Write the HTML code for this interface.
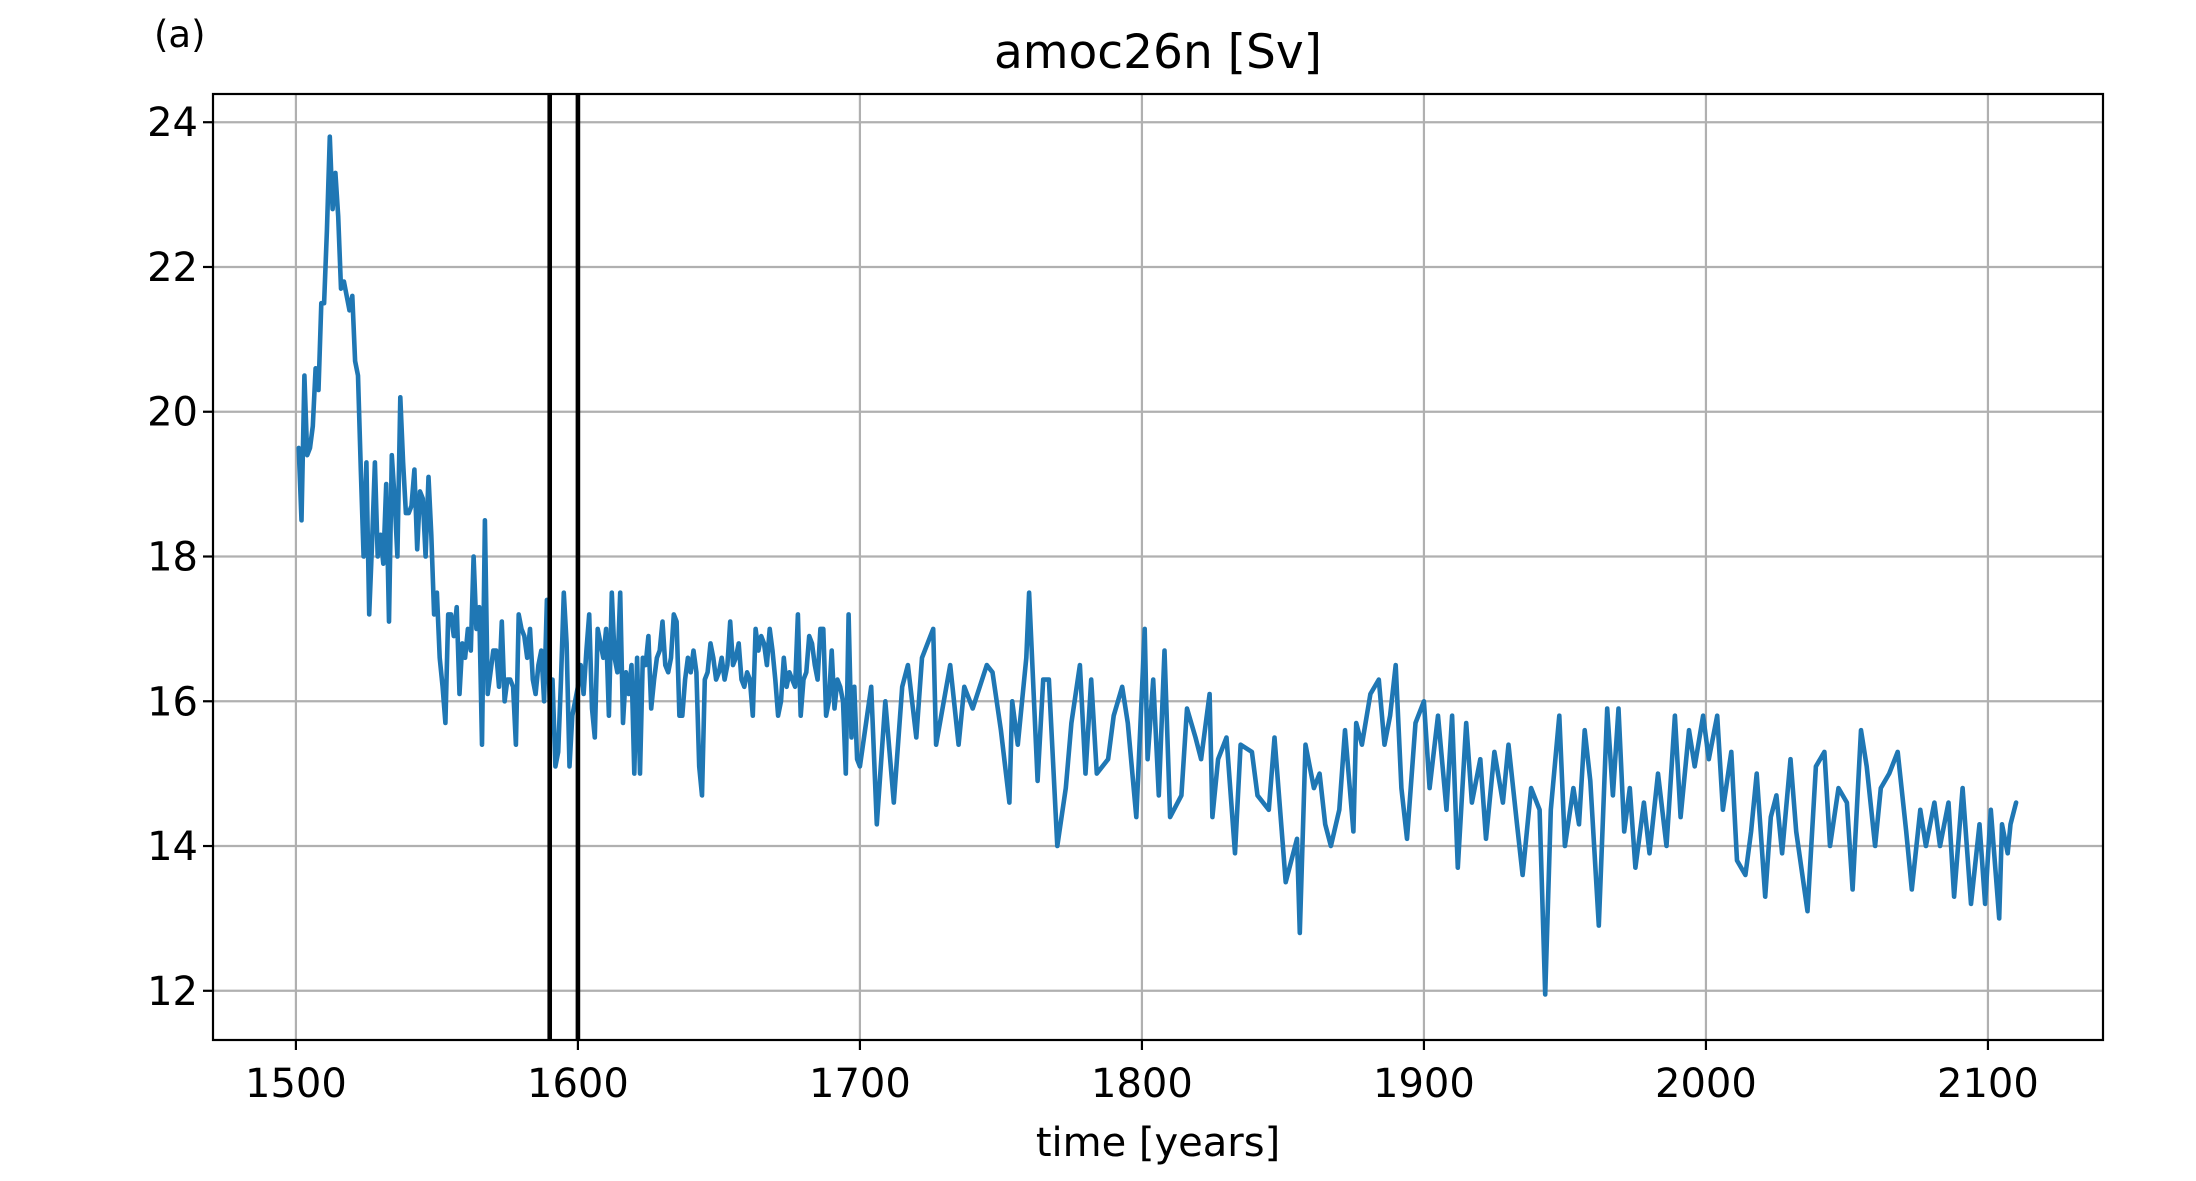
<!DOCTYPE html>
<html><head><meta charset="utf-8"><style>
html,body{margin:0;padding:0;background:#fff;}
svg{display:block;font-family:"DejaVu Sans","Liberation Sans",sans-serif;}
</style></head><body>
<svg id="chart" width="2196" height="1181" viewBox="0 0 2196 1181" xmlns="http://www.w3.org/2000/svg">
<rect width="2196" height="1181" fill="#fff"/>
<g id="grid"></g>
<g id="series"></g>
<g id="vlines"></g>
<rect x="213" y="94" width="1890" height="946" fill="none" stroke="#000" stroke-width="2.2"/>
<g id="ticks"></g>
<text x="1158" y="68" font-size="47" text-anchor="middle">amoc26n [Sv]</text>
<text x="1158" y="1156" font-size="40" text-anchor="middle">time [years]</text>
<text x="154" y="47" font-size="37">(a)</text>
</svg>
<script>
const xTicks=[1500,1600,1700,1800,1900,2000,2100];
const yTicks=[12,14,16,18,20,22,24];
const markerYears=[1590,1600];
const earlyValues=[19.5,18.5,20.5,19.4,19.5,19.8,20.6,20.3,21.5,21.5,
22.5,23.8,22.8,23.3,22.7,21.7,21.8,21.6,21.4,21.6,
20.7,20.5,19.2,18.0,19.3,17.2,18.2,19.3,18.0,18.3,
17.9,19.0,17.1,19.4,18.8,18.0,20.2,19.3,18.6,18.6,
18.7,19.2,18.1,18.9,18.8,18.0,19.1,18.3,17.2,17.5,
16.6,16.2,15.7,17.2,17.2,16.9,17.3,16.1,16.8,16.6,
17.0,16.7,18.0,17.0,17.3,15.4,18.5,16.1,16.4,16.7,
16.7,16.2,17.1,16.0,16.3,16.3,16.2,15.4,17.2,17.0,
16.9,16.6,17.0,16.3,16.1,16.5,16.7,16.0,17.4,16.0,
16.3,15.1,15.3,16.3,17.5,16.8,15.1,15.8,16.0,16.2,
16.5,16.1,16.7,17.2,15.9,15.5,17.0,16.8,16.6,17.0,
15.8,17.5,16.6,16.4,17.5,15.7,16.4,16.1,16.5,15.0,
16.6,15.0,16.6,16.5,16.9,15.9,16.3,16.6,16.7,17.1,
16.5,16.4,16.6,17.2,17.1,15.8,15.8,16.3,16.6,16.4,
16.7,16.4,15.1,14.7,16.3,16.4,16.8,16.6,16.3,16.4,
16.6,16.3,16.5,17.1,16.5,16.6,16.8,16.3,16.2,16.4,
16.3,15.8,17.0,16.7,16.9,16.8,16.5,17.0,16.7,16.3,
15.8,16.0,16.6,16.2,16.4,16.3,16.2,17.2,15.8,16.3,
16.4,16.9,16.8,16.5,16.3,17.0,17.0,15.8,16.0,16.7,
15.9,16.3,16.2,16.0,15.0,17.2,15.5,16.2,15.2,15.1];
const lateYears=[1704,1706,1709,1712,1715,1717,1720,1722,1726,1727,1732,1735,1737,1740,1745,1747,1750,1753,1754,1756,1759,1760,1763,1765,1767,1770,1773,1775,1778,1780,1782,1784,1788,1790,1793,1795,1798,1801,1802,1804,1806,1808,1810,1814,1816,1819,1821,1824,1825,1827,1830,1833,1835,1839,1841,1845,1847,1851,1855,1856,1858,1861,1863,1865,1867,1870,1872,1875,1876,1878,1881,1884,1886,1888,1890,1892,1894,1897,1900,1902,1905,1908,1910,1912,1915,1917,1920,1922,1925,1928,1930,1933,1935,1938,1941,1943,1945,1948,1950,1953,1955,1957,1959,1962,1965,1967,1969,1971,1973,1975,1978,1980,1983,1986,1989,1991,1994,1996,1999,2001,2004,2006,2009,2011,2014,2016,2018,2021,2023,2025,2027,2030,2032,2036,2039,2042,2044,2047,2050,2052,2055,2057,2060,2062,2065,2068,2071,2073,2076,2078,2081,2083,2086,2088,2091,2094,2097,2099,2101,2104,2105,2107,2108,2110];
const lateValues=[16.2,14.3,16.0,14.6,16.2,16.5,15.5,16.6,17.0,15.4,16.5,15.4,16.2,15.9,16.5,16.4,15.6,14.6,16.0,15.4,16.6,17.5,14.9,16.3,16.3,14.0,14.8,15.7,16.5,15.0,16.3,15.0,15.2,15.8,16.2,15.7,14.4,17.0,15.2,16.3,14.7,16.7,14.4,14.7,15.9,15.5,15.2,16.1,14.4,15.2,15.5,13.9,15.4,15.3,14.7,14.5,15.5,13.5,14.1,12.8,15.4,14.8,15.0,14.3,14.0,14.5,15.6,14.2,15.7,15.4,16.1,16.3,15.4,15.8,16.5,14.8,14.1,15.7,16.0,14.8,15.8,14.5,15.8,13.7,15.7,14.6,15.2,14.1,15.3,14.6,15.4,14.3,13.6,14.8,14.5,11.95,14.5,15.8,14.0,14.8,14.3,15.6,14.9,12.9,15.9,14.7,15.9,14.2,14.8,13.7,14.6,13.9,15.0,14.0,15.8,14.4,15.6,15.1,15.8,15.2,15.8,14.5,15.3,13.8,13.6,14.2,15.0,13.3,14.4,14.7,13.9,15.2,14.2,13.1,15.1,15.3,14.0,14.8,14.6,13.4,15.6,15.1,14.0,14.8,15.0,15.3,14.2,13.4,14.5,14.0,14.6,14.0,14.6,13.3,14.8,13.2,14.3,13.2,14.5,13.0,14.3,13.9,14.3,14.6];
const NS='http://www.w3.org/2000/svg';
const X0=213,X1=2103,Y0=94,Y1=1040,XMIN=1470.6,XMAX=2140.8,YMIN=11.32,YMAX=24.39;
function sx(v){return X0+(v-XMIN)/(XMAX-XMIN)*(X1-X0);}
function sy(v){return Y1-(v-YMIN)/(YMAX-YMIN)*(Y1-Y0);}
function mk(tag,attrs,parent){const e=document.createElementNS(NS,tag);for(const k in attrs)e.setAttribute(k,attrs[k]);parent.appendChild(e);return e;}
const grid=document.getElementById('grid'),ticks=document.getElementById('ticks');
xTicks.forEach(t=>{const x=sx(t);
 const g=mk('line',{x1:x,x2:x,y1:Y0,y2:Y1,stroke:'#b0b0b0','stroke-width':2.2},grid);
 
 
 const tk=mk('line',{x1:x,x2:x,y1:Y1,y2:Y1+10,stroke:'#000','stroke-width':2.2},ticks);
 
 
 const tl=mk('text',{x:x,y:Y1+57,'font-size':40,'text-anchor':'middle'},ticks);tl.textContent=t;
 
 
});
yTicks.forEach(t=>{const y=sy(t);
 const g=mk('line',{x1:X0,x2:X1,y1:y,y2:y,stroke:'#b0b0b0','stroke-width':2.2},grid);
 
 
 const tk=mk('line',{x1:X0-10,x2:X0,y1:y,y2:y,stroke:'#000','stroke-width':2.2},ticks);
 
 
 const tl=mk('text',{x:X0-15,y:y+14,'font-size':40,'text-anchor':'end'},ticks);tl.textContent=t;
 
 
});
const pts=[];
earlyValues.forEach((v,i)=>pts.push([sx(1501+i),sy(v)]));
lateYears.forEach((yr,i)=>pts.push([sx(yr),sy(lateValues[i])]));
const line=mk('polyline',{points:pts.map(p=>p[0].toFixed(1)+','+p[1].toFixed(1)).join(' '),fill:'none',stroke:'#1f77b4','stroke-width':4.6,'stroke-linejoin':'round','stroke-linecap':'round'},document.getElementById('series'));


markerYears.forEach(m=>{const x=sx(m);
 const v=mk('line',{x1:x,x2:x,y1:Y0,y2:Y1,stroke:'#000','stroke-width':4.6},document.getElementById('vlines'));
 
 
});
</script>
</body></html>
